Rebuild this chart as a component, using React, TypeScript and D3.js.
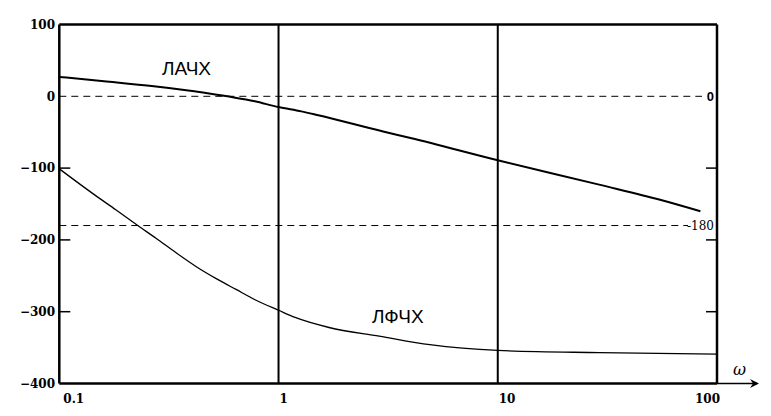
import React from "react";
import * as d3 from "d3";

const W = 771;
const H = 416;

// ЛАЧХ (magnitude) readings
const magOmega = [0.1, 0.16, 0.27, 0.46, 0.78, 1, 1.27, 1.5, 3, 4, 10, 29, 55, 84];
const magValue = [27, 21, 14, 5, -7, -15, -21, -26, -49, -58, -89, -123, -144, -160];

// ЛФЧХ (phase) readings
const phOmega = [0.1, 0.146, 0.181, 0.228, 0.277, 0.341, 0.42, 0.52, 0.64, 0.79, 1, 1.19, 1.7, 2.88, 4.9, 10, 29, 100];
const phValue = [-101, -138, -158, -180, -198, -218, -237, -254, -269, -284, -298, -308, -322, -334, -346, -354, -357, -359];

const yTicks = [100, 0, -100, -200, -300, -400];
const yTickLabels = ["100", "0", "−100", "−200", "−300", "−400"];
const xTicks = [0.1, 1, 10, 100];
const xTickLabels = ["0.1", "1", "10", "100"];
const innerTicks = [-100, -200, -300];
const refLevels = [0, -180];
const refLabels = ["0", "-180"];
const gridOmega = [1, 10];

export default function App() {
  const left = 59.3, right = 717, top = 24.5, bottom = 383.5;
  const x = d3.scaleLog().domain([0.1, 100]).range([left, right]);
  const y = d3.scaleLinear().domain([-400, 100]).range([bottom, top]);

  const line = d3
    .line<[number, number]>()
    .x((d) => x(d[0]))
    .y((d) => y(d[1]))
    .curve(d3.curveMonotoneX);

  const magPath = line(magOmega.map((w, i) => [w, magValue[i]]) as [number, number][]) || "";
  const phPath = line(phOmega.map((w, i) => [w, phValue[i]]) as [number, number][]) || "";

  const serif = "DejaVu Serif, serif";
  const sans = "Liberation Sans, Arial, sans-serif";
  const tickStyle = { fontFamily: serif, fontWeight: 700, fontSize: "12px" } as React.CSSProperties;

  return (
    <svg
      width={W}
      height={H}
      style={{ position: "absolute", left: 0, top: 0, background: "#fff" }}
    >
      <rect x={0} y={0} width={W} height={H} fill="#fff" />

      {refLevels.map((v, i) => (
        <line
          key={"ref" + i}
          x1={left}
          x2={i === 0 ? 702 : 688}
          y1={y(v)}
          y2={y(v)}
          stroke="#000"
          strokeWidth={1}
          strokeDasharray="7,5"
        />
      ))}
      {refLevels.map((v, i) => (
        <text
          key={"refl" + i}
          x={714}
          y={y(v)}
          dy="0.35em"
          textAnchor="end"
          style={
            i === 0
              ? { fontFamily: sans, fontWeight: 700, fontSize: "13px" }
              : { fontFamily: serif, fontWeight: 400, fontSize: "12px" }
          }
          fill="#000"
        >
          {refLabels[i]}
        </text>
      ))}

      {gridOmega.map((w) => (
        <line key={"g" + w} x1={x(w)} x2={x(w)} y1={top} y2={bottom} stroke="#000" strokeWidth={2} />
      ))}

      <line x1={left} x2={left} y1={top} y2={bottom} stroke="#000" strokeWidth={2.5} />
      <line x1={right} x2={right} y1={top} y2={bottom} stroke="#000" strokeWidth={2.5} />
      <line x1={left} x2={right} y1={top} y2={top} stroke="#000" strokeWidth={2.5} />
      <line x1={left} x2={right} y1={bottom} y2={bottom} stroke="#000" strokeWidth={2.5} />

      <line x1={right} x2={757} y1={bottom} y2={bottom} stroke="#000" strokeWidth={1.5} />
      <path d={`M750,${bottom - 4.5} L759,${bottom} L750,${bottom + 4.5} L753,${bottom} Z`} fill="#000" />
      <text x={733} y={375} style={{ fontFamily: serif, fontStyle: "italic", fontSize: "16px" }} fill="#000">
        ω
      </text>

      {innerTicks.map((v) => (
        <g key={"t" + v}>
          <line x1={left} x2={left + 11} y1={y(v)} y2={y(v)} stroke="#000" strokeWidth={1.5} />
          <line x1={right - 11} x2={right} y1={y(v)} y2={y(v)} stroke="#000" strokeWidth={1.5} />
        </g>
      ))}

      {yTicks.map((v, i) => (
        <text key={"yl" + v} x={55} y={y(v)} dy="0.35em" textAnchor="end" style={tickStyle} fill="#000">
          {yTickLabels[i]}
        </text>
      ))}

      {xTicks.map((w, i) => (
        <text
          key={"xl" + w}
          x={i === xTicks.length - 1 ? x(w) + 3 : x(w) + (i === 0 ? 4 : 1)}
          y={403}
          textAnchor={i === xTicks.length - 1 ? "end" : "start"}
          style={tickStyle}
          fill="#000"
        >
          {xTickLabels[i]}
        </text>
      ))}

      <path d={magPath} fill="none" stroke="#000" strokeWidth={2} />
      <path d={phPath} fill="none" stroke="#000" strokeWidth={1.3} />

      <text x={162} y={75} style={{ fontFamily: sans, fontSize: "19px" }} fill="#000">
        ЛАЧХ
      </text>
      <text x={372} y={323} style={{ fontFamily: sans, fontSize: "19px" }} fill="#000">
        ЛФЧХ
      </text>
    </svg>
  );
}
